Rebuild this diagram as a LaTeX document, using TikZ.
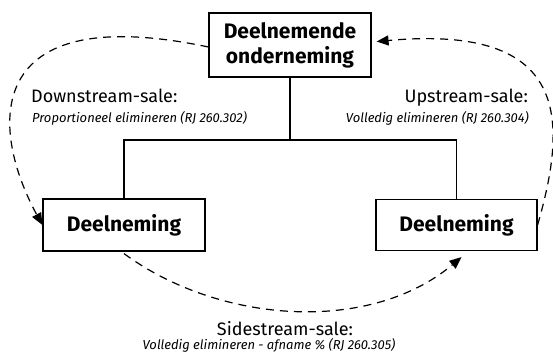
\documentclass[tikz,border=0pt]{standalone}
\usepackage{fontspec}
\setmainfont{Fira Sans}
\usetikzlibrary{arrows.meta}
\def\boxnode{\node[draw,line width=1.2pt,font=\bfseries\fontsize{21}{25}\selectfont,align=center,inner sep=0pt]}
\def\headnode{\node[font=\fontsize{18}{20}\selectfont,inner sep=0pt]}
\def\subnode{\node[font=\itshape\fontsize{13}{15}\selectfont,inner sep=0pt]}

\begin{document}
\begin{tikzpicture}[x=1pt,y=1pt,flow/.style={dash pattern=on 8pt off 6pt,line width=1.2pt,-{Triangle[length=12pt,width=10pt]}}]
\useasboundingbox (0,0) rectangle (553,359);
\boxnode[minimum width=162pt,minimum height=64pt] (top) at (290,314) {Deelnemende\\onderneming};
\boxnode[minimum width=162pt,minimum height=52pt] (lbox) at (124,134) {Deelneming};
\boxnode[minimum width=161pt,minimum height=51pt] (rbox) at (456.5,134) {Deelneming};
\coordinate (split) at (290,219);
\draw[line width=1.1pt] (top.south) -- (split);
\draw[line width=1.1pt] (lbox.north) |- (split) -| (rbox.north);
% labels
\headnode[anchor=base west] (down) at (31,256) {Downstream-sale:};
\subnode[anchor=base west] (downsub) at (32,236) {Proportioneel elimineren (RJ 260.302)};
\headnode[anchor=base east] (up) at (528,256) {Upstream-sale:};
\subnode[anchor=base east] (upsub) at (529,236) {Volledig elimineren (RJ 260.304)};
\headnode[anchor=base] (side) at (285,24) {Sidestream-sale:};
\subnode[anchor=base] (sidesub) at (269,10) {Volledig elimineren - afname \% (RJ 260.305)};
% flows
\draw[flow] ([yshift=-2pt]top.west) .. controls (-20,360) and (-10,230) .. (lbox.west);
\draw[flow,shorten >=5pt] (rbox.east) .. controls (568,240) and (570,335) .. ([yshift=3pt]top.east);
\draw[flow] ([yshift=-2pt]lbox.south) .. controls (220,35) and (370,25) .. ([xshift=5pt,yshift=-6pt]rbox.south);
\end{tikzpicture}
\end{document}
